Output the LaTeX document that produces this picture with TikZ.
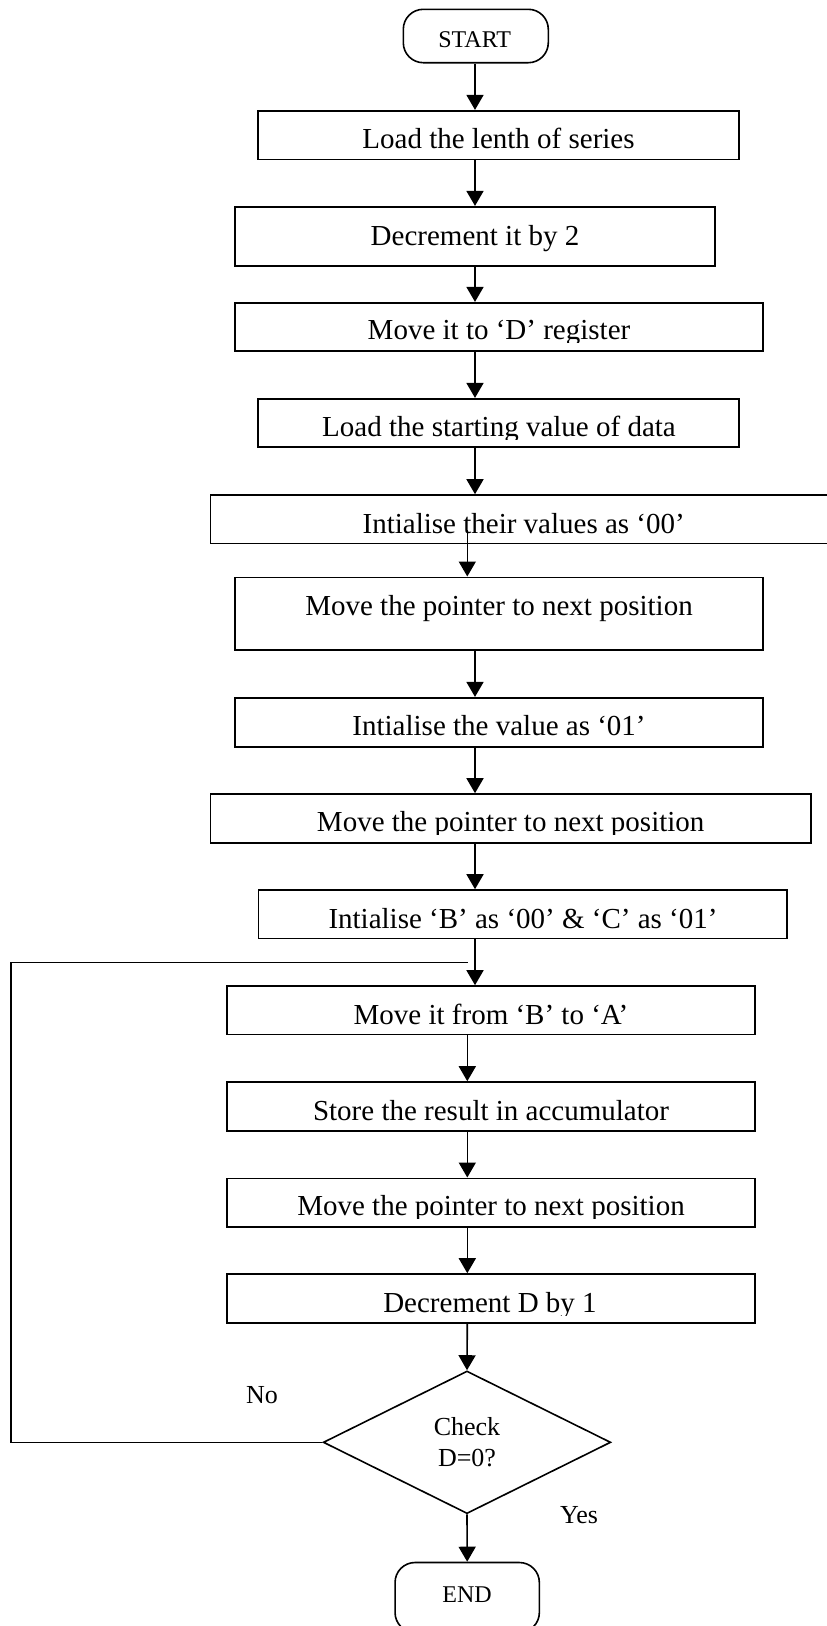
\documentclass[tikz,border=0pt]{standalone}
\usepackage{fontspec}
\setmainfont{Liberation Serif}
\usetikzlibrary{arrows.meta,shapes.geometric}

\tikzset{
  flowline/.style={line width=1.6pt},
  arr/.style={flowline,-{Triangle[length=15pt,width=17pt]}},
  pbox/.style={draw,flowline,rectangle,inner sep=0pt},
  term/.style={draw,flowline,rounded corners=20pt},
  txt/.style={inner sep=0pt,font=\fontsize{29}{34}\selectfont},
  small/.style={inner sep=0pt,font=\fontsize{26}{31}\selectfont},
  tiny/.style={inner sep=0pt,font=\fontsize{24}{28}\selectfont},
}

% process box: name, left, top, right, bottom, text x, baseline, clip bottom, text
\newcommand{\procbox}[9]{%
  \node[pbox,minimum width={(#4-#2)*1pt},minimum height={(#5-#3)*1pt}]
    (#1) at ({(#2+#4)/2},{(#3+#5)/2}) {};
  \begin{scope}
    \clip (#2,#3) rectangle (#4,#8);
    \node[txt,anchor=base] (#1t) at (#6,#7) {#9};
  \end{scope}}

\begin{document}
\begin{tikzpicture}[x=1pt,y=-1pt]
\useasboundingbox (0,0) rectangle (827,1626);
\clip (0,0) rectangle (827,1626);
\fill[white] (0,0) rectangle (827,1626);

% terminals
\node[term,minimum width=145pt,minimum height=53.4pt] (start) at (475.8,36) {};
\node[tiny,anchor=base] (startt) at (474.7,47.3) {START};

% process steps
\procbox{b1}{258}{110.7}{739}{159.3}{498.5}{148.3}{151.3}{Load the lenth of series}
\procbox{b2}{234.7}{206.7}{715}{266}{475}{245}{262}{Decrement it by 2}
\procbox{b3}{234.7}{302.7}{763}{351}{499}{339.5}{342.3}{Move it to ‘D’ register}
\procbox{b4}{258}{398.7}{739}{447}{499}{436.7}{439.5}{Load the starting value of data}
\procbox{b5}{210.4}{495}{837}{543.3}{523.7}{533.3}{536}{Intialise their values as ‘00’}
\procbox{b6}{234.7}{577.3}{763}{650}{499}{615.7}{646}{Move the pointer to next position}
\procbox{b7}{234.7}{697.7}{763}{746.7}{499}{735}{738}{Intialise the value as ‘01’}
\procbox{b8}{210.4}{794}{811}{842.7}{510.7}{831.7}{834.5}{Move the pointer to next position}
\procbox{b9}{258.4}{890}{787}{938.3}{523}{928.3}{931}{Intialise ‘B’ as ‘00’ \& ‘C’ as ‘01’}
\procbox{b10}{226.8}{986}{754.7}{1034.3}{491}{1024.3}{1027}{Move it from ‘B’ to ‘A’}
\procbox{b11}{226.8}{1082}{754.7}{1130.7}{491}{1120}{1123}{Store the result in accumulator}
\procbox{b12}{226.8}{1178.3}{754.7}{1226.7}{491}{1215.7}{1218.5}{Move the pointer to next position}
\procbox{b13}{226.8}{1274}{754.7}{1322.7}{490}{1312.3}{1315}{Decrement D by 1}

% decision
\node[draw,flowline,shape=diamond,minimum width=287.5pt,minimum height=142.6pt,
      inner sep=0pt,align=center,small] (dia) at (467,1442.3) {Check\\D=0?};
\node[small,anchor=base] (no) at (262,1403) {No};
\node[small,anchor=base] (yes) at (579,1523) {Yes};

% end terminal (its lower edge lies just past the page border)
\node[term,minimum width=144.3pt,minimum height=70pt,anchor=north] (end) at (467.2,1561.7) {};
\node[tiny,anchor=base] (endt) at (467,1602.7) {END};

% connector columns
\coordinate (ax) at (475,0);
\coordinate (bx) at (467.3,0);
\coordinate (c5) at (467.3,530);

\draw[arr] (start.south -| ax) -- (b1.north -| ax);
\draw[arr] (b1.south -| ax) -- (b2.north -| ax);
\draw[arr] (b2.south -| ax) -- (b3.north -| ax);
\draw[arr] (b3.south -| ax) -- (b4.north -| ax);
\draw[arr] (b4.south -| ax) -- (b5.north -| ax);
\draw[arr] (c5) -- (b6.north -| bx);
\draw[arr] (b6.south -| ax) -- (b7.north -| ax);
\draw[arr] (b7.south -| ax) -- (b8.north -| ax);
\draw[arr] (b8.south -| ax) -- (b9.north -| ax);
\draw[arr] (b9.south -| ax) -- (b10.north -| ax);
\draw[arr] (b10.south -| bx) -- (b11.north -| bx);
\draw[arr] (b11.south -| bx) -- (b12.north -| bx);
\draw[arr] (b12.south -| bx) -- (b13.north -| bx);
\draw[arr] (b13.south -| bx) -- (dia.north);
\draw[arr] (dia.south) -- (end.north);

% loop back on "No"
\coordinate (l1) at (11,1442.3);
\coordinate (l2) at (11,962.3);
\coordinate (l3) at (467.7,962.3);
\draw[flowline] (dia.west) -- (l1) -- (l2) -- (l3);
\end{tikzpicture}
\end{document}
